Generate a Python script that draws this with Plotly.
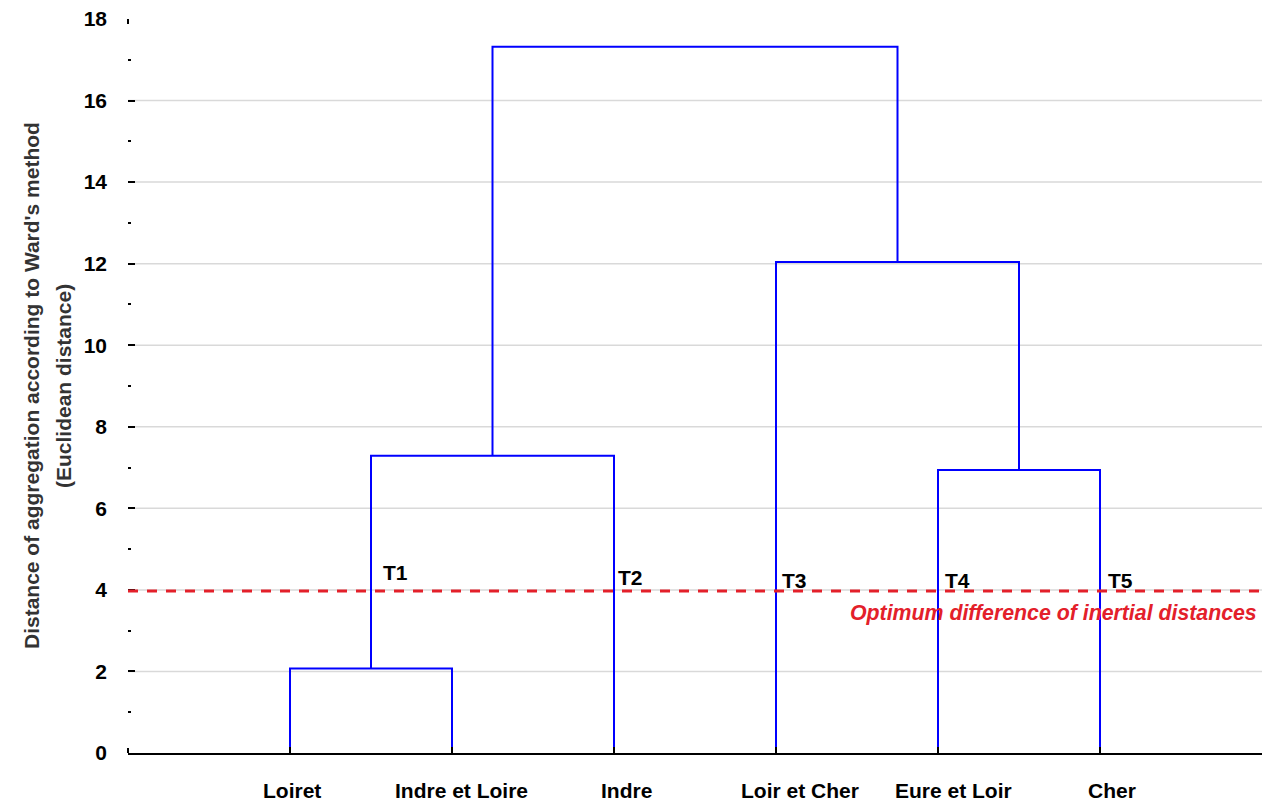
import plotly.graph_objects as go

# ---- data ----
leaves = ["Loiret", "Indre et Loire", "Indre", "Loir et Cher", "Eure et Loir", "Cher"]
# linkage: cluster ids 0-5 are leaves, 6.. are merges in order
merge_left = [0, 6, 4, 3, 7]
merge_right = [1, 2, 5, 8, 9]
merge_height = [2.07, 7.29, 6.94, 12.04, 17.32]
cut_height = 3.97
cut_label = "Optimum difference of inertial distances"
group_labels = ["T1", "T2", "T3", "T4", "T5"]
group_nodes = [6, 2, 3, 4, 5]          # node each group label sits next to
y_ticks = [0, 2, 4, 6, 8, 10, 12, 14, 16, 18]
y_title_lines = ["Distance of aggregation according to Ward's method", "(Euclidean distance)"]

# ---- style ----
FONT = "Liberation Sans, Arial, sans-serif"
BLUE = "#0000ff"
RED = "#e3202a"
label_xshift = [2, 9, 12, 24, 15, 12]
group_xshift = [10, 2, 4, 5, 6]
group_yshift = [19, 14, 11, 11, 11]
title_xshift = [-97, -65]

# ---- dendrogram geometry ----
node_x = {i: i + 1 for i in range(len(leaves))}
node_y = {i: 0.0 for i in range(len(leaves))}
xs, ys = [], []
for k, (a, b, h) in enumerate(zip(merge_left, merge_right, merge_height)):
    nid = len(leaves) + k
    xa, ya, xb, yb = node_x[a], node_y[a], node_x[b], node_y[b]
    xs += [xa, xa, xb, xb, None]
    ys += [ya, h, h, yb, None]
    node_x[nid] = (xa + xb) / 2
    node_y[nid] = h

fig = go.Figure()
fig.add_trace(go.Scatter(x=xs, y=ys, mode="lines",
                         line=dict(color=BLUE, width=2), hoverinfo="skip",
                         showlegend=False))

# gridlines (interior ticks only)
for v in y_ticks[1:-1]:
    fig.add_shape(type="line", xref="paper", x0=0, x1=1, yref="y", y0=v, y1=v,
                  line=dict(color="#d9d9d9", width=1.5), layer="below")

# small axis-end marks at the bottom and top of the y scale
for v, d in ((y_ticks[0], 5), (y_ticks[-1], -5)):
    fig.add_shape(type="line", xref="paper", x0=0, x1=0, yref="y", ysizemode="pixel",
                  yanchor=v, y0=0, y1=d, line=dict(color="black", width=2))

# cut line
fig.add_shape(type="line", xref="paper", x0=0, x1=1, yref="y", y0=cut_height, y1=cut_height,
              line=dict(color=RED, width=3, dash="10px,9px"))
fig.add_annotation(text=cut_label, xref="paper", x=1, xanchor="right", xshift=-3,
                   yref="y", y=cut_height, yanchor="middle", yshift=-22, showarrow=False,
                   font=dict(family=FONT, size=21.3, color=RED, weight="bold", style="italic"))

# group labels
for lab, node, dx, dy in zip(group_labels, group_nodes, group_xshift, group_yshift):
    fig.add_annotation(text=lab, x=node_x[node], y=cut_height, xanchor="left", yanchor="middle",
                       xshift=dx, yshift=dy, showarrow=False,
                       font=dict(family=FONT, size=21, color="black", weight="bold"))

# leaf labels
for i, (lab, dx) in enumerate(zip(leaves, label_xshift)):
    fig.add_annotation(text=lab, x=node_x[i], xref="x", y=0, yref="paper",
                       xanchor="center", yanchor="middle", xshift=dx, yshift=-37.5,
                       showarrow=False,
                       font=dict(family=FONT, size=21, color="black", weight="bold"))

# y title (two lines)
for line, dx in zip(y_title_lines, title_xshift):
    fig.add_annotation(text=line, xref="paper", x=0, xshift=dx, xanchor="center",
                       yref="paper", y=0.5, yanchor="middle", textangle=-90, showarrow=False,
                       font=dict(family=FONT, size=21, color="#333333", weight="bold"))

fig.update_layout(
    width=1274, height=802,
    margin=dict(l=128, r=12, t=19, b=49, autoexpand=False),
    plot_bgcolor="white", paper_bgcolor="white",
    font=dict(family=FONT, size=21, color="black"),
    xaxis=dict(range=[0, len(leaves) + 1], showgrid=False, zeroline=False, automargin=False,
               showline=True, linecolor="black", linewidth=2,
               tickmode="array", tickvals=[node_x[i] for i in range(len(leaves))],
               ticktext=["" for _ in leaves], ticks="inside", ticklen=6, tickwidth=2,
               tickcolor="black"),
    yaxis=dict(range=[0, 18], showgrid=False, zeroline=False, showline=False, automargin=False,
               tickmode="array", tickvals=y_ticks, ticks="inside", ticklen=7, tickwidth=2,
               tickcolor="black", ticklabelstandoff=20, ticklabeloverflow="allow",
               tickfont=dict(family=FONT, size=21, color="black", weight="bold"),
               minor=dict(dtick=1, ticks="inside", ticklen=3, tickwidth=2, tickcolor="black",
                          showgrid=False)),
)

fig.write_html("out.html", config={"displayModeBar": False},
               post_script="document.body.style.margin='0';document.body.style.overflow='hidden';")
